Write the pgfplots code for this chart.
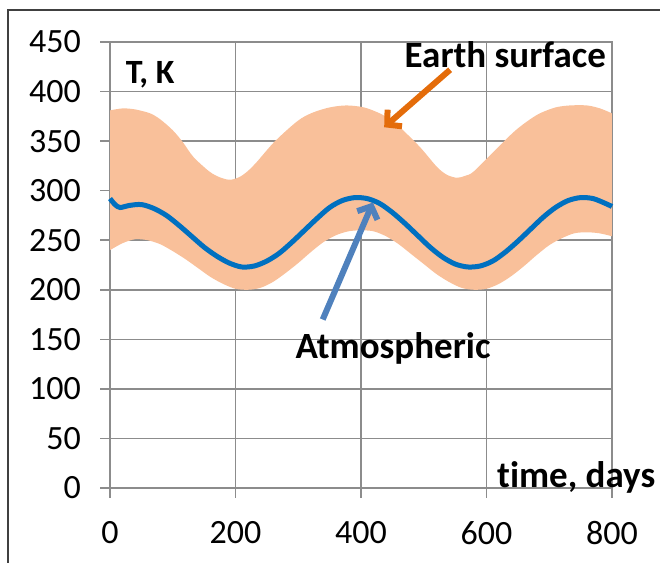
\documentclass[border=0pt]{standalone}
\usepackage{fontspec}
\setmainfont{Carlito}[Ligatures=NoCommon]
\usepackage{pgfplots}
\pgfplotsset{compat=1.18}
\usepgfplotslibrary{fillbetween}
\usetikzlibrary{arrows.meta}

\definecolor{peach}{HTML}{F9C09A}
\definecolor{atmblue}{HTML}{0070C0}
\definecolor{arrblue}{HTML}{4F81BD}
\definecolor{arrorange}{HTML}{E46C0A}
\definecolor{gridgray}{HTML}{8C8C8C}

% upper edge of the Earth surface band
\pgfplotstableread{
x y
0 381
20 383
40 382
64 378
80 372
100 361
116 349
133 334
159 319
177 313
192 311
207 314
220 320
234 329
260 348
287 364
305 373
324 379
350 384
377 386
405 384
430 378
446 372
462 364
494 344
521 324
537 316
553 313
566 315
579 319
611 339
643 359
665 370
685 378
710 384
733 386
760 386
781 383
800 378
}\surfup

% lower edge of the Earth surface band
\pgfplotstableread{
x y
0 240
20 247
40 251
60 250
80 246
100 239
120 231
140 222
160 213
180 206
200 201
220 200
240 202
260 208
280 217
300 227
320 238
340 248
360 255
380 259
400 260
420 259
440 254
460 246
480 236
500 226
520 216
540 208
560 202
580 200
600 201
620 206
640 214
660 224
680 235
700 245
720 252
740 257
760 258
780 257
800 254
}\surflo

% atmospheric temperature
\pgfplotstableread{
x y
0 292
8 286
16 283
30 285
50 286
70 282
90 275
110 265
130 254
150 243
170 234
190 227
210 223
230 224
250 229
270 237
290 248
310 260
330 272
350 283
370 290
390 293
410 292
430 287
450 278
470 267
490 255
510 243
530 233
550 226
570 223
590 224
610 229
630 238
650 249
670 261
690 273
710 283
730 290
750 293
770 292
790 287
800 284
}\atmos

\begin{document}
\begin{tikzpicture}
\begin{axis}[
    scale only axis,
    width=251pt, height=223pt,
    xmin=0, xmax=800, ymin=0, ymax=450,
    xtick={0,200,...,800},
    ytick={0,50,...,450},
    grid=major,
    grid style={gridgray, line width=0.75pt},
    axis line style={gridgray, line width=0.75pt},
    major tick style={gridgray, line width=0.75pt},
    tick align=outside,
    major tick length=5pt,
    xtick pos=bottom, ytick pos=left,
    tick label style={font=\fontsize{17}{20}\selectfont, text=black},
    /pgf/number format/assume math mode=true,
    /pgf/number format/1000 sep={},
    xticklabel style={yshift=-8pt},
    yticklabel style={xshift=-6pt},
    clip=false,
]
\addplot[draw=none, name path=up, smooth] table {\surfup};
\addplot[draw=none, name path=lo, smooth] table {\surflo};
\addplot[peach] fill between[of=up and lo];
\addplot[atmblue, line width=2.5pt, smooth] table {\atmos};

\draw[arrorange, line width=3pt, -{Straight Barb[length=5pt,width=11pt]}]
    (axis cs:542,422) -- (axis cs:437,364);
\draw[arrblue, line width=3pt, -{Straight Barb[length=5pt,width=11pt]}]
    (axis cs:339,170) -- (axis cs:419,288);

\node[font=\fontsize{18.5}{22}\selectfont\bfseries] at (axis cs:630,437) {Earth surface};
\node[font=\fontsize{18.5}{22}\selectfont\bfseries] at (axis cs:451,141) {Atmospheric};
\node[font=\fontsize{17}{20}\selectfont\bfseries] at (axis cs:64,417) {T, K};
\node[font=\fontsize{18.5}{22}\selectfont\bfseries] at (axis cs:743,11) {time, days};
\end{axis}
\pgfresetboundingbox
\useasboundingbox (-55pt,-37.5pt) rectangle (275pt,244pt);
\draw[black!75, line width=0.75pt] (-51pt,-40pt) -- (-51pt,239pt) -- (280pt,239pt);
\end{tikzpicture}
\end{document}
